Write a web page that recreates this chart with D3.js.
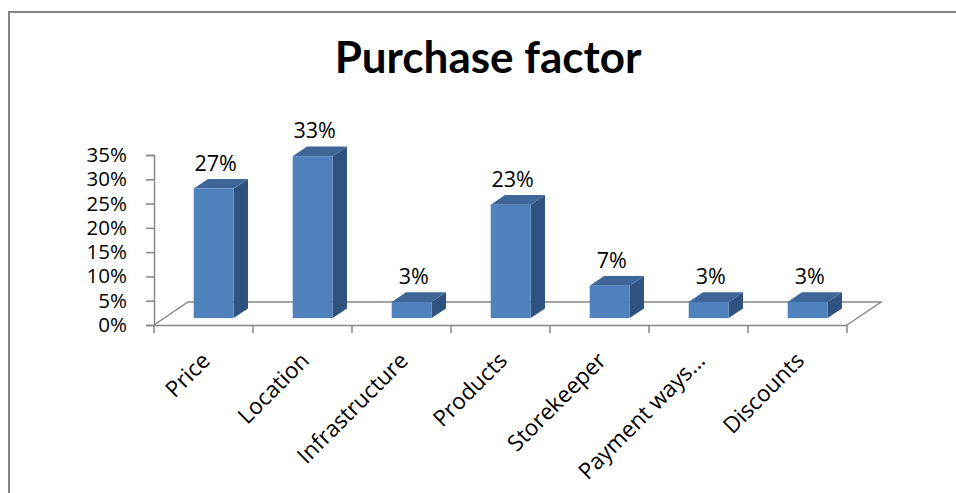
<!DOCTYPE html>
<html>
<head>
<meta charset="utf-8">
<script src="https://cdn.jsdelivr.net/npm/d3@7"></script>
<style>
  html, body { margin: 0; padding: 0; background: #fff; }
  svg { display: block; }
  text { font-family: "Open Sans", "Noto Sans", sans-serif; fill: #000; }
</style>
</head>
<body>
<svg id="chart" width="956" height="493"></svg>
<script>
// Purchase factor survey: share of respondents per factor (n/30)
const categories = ["Price", "Location", "Infrastructure", "Products", "Storekeeper", "Payment ways...", "Discounts"];
const values = [8 / 30, 10 / 30, 1 / 30, 7 / 30, 2 / 30, 1 / 30, 1 / 30];
const dataLabels = ["27%", "33%", "3%", "23%", "7%", "3%", "3%"];
const tickValues = [0, 0.05, 0.10, 0.15, 0.20, 0.25, 0.30, 0.35];

const svg = d3.select("#chart");
const W = 956, H = 493;

// Chart area border
svg.append("rect")
  .attr("x", 9).attr("y", 12)
  .attr("width", W + 10).attr("height", H + 10)
  .attr("fill", "#fff").attr("stroke", "#868686").attr("stroke-width", 2);

// Title
svg.append("text")
  .attr("x", 488).attr("y", 73)
  .attr("text-anchor", "middle")
  .style("font-family", "Lato, 'Open Sans', sans-serif")
  .style("font-weight", 700)
  .style("font-size", "44px")
  .text("Purchase factor");

// 3D projection: front plane + depth vector
const depth = { dx: 34, dy: -23 };
const x0 = 154, x1 = 847;
const x = d3.scaleBand().domain(categories).range([x0, x1]);
const y = d3.scaleLinear().domain([0, 0.35]).range([325, 155]);
const barW = 40;
const fFront = 0.30, fBack = 0.72;

const axisColor = "#868686";

// Floor outline
const g = svg.append("g");
const floorPts = [
  [x0, y(0)],
  [x0 + depth.dx, y(0) + depth.dy],
  [x1 + depth.dx, y(0) + depth.dy],
  [x1, y(0)]
];
g.append("path")
  .attr("d", d3.line()(floorPts))
  .attr("fill", "none")
  .attr("stroke", axisColor)
  .attr("stroke-width", 1.5);

// Category axis (front edge of floor) with tick marks between categories
const xAxis = d3.axisBottom(x).tickSize(0).tickFormat("");
g.append("g").attr("transform", `translate(0,${y(0)})`).call(xAxis)
  .call(s => s.select(".domain").attr("stroke", axisColor).attr("stroke-width", 1.5));
const boundaries = categories.map(c => x(c)).concat([x1]);
g.selectAll(".ctick").data(boundaries).join("line")
  .attr("x1", d => d).attr("x2", d => d)
  .attr("y1", y(0)).attr("y2", y(0) + 8)
  .attr("stroke", axisColor).attr("stroke-width", 1.5);

// Value axis
const yAxis = d3.axisLeft(y).tickValues(tickValues)
  .tickFormat(d3.format(".0%")).tickSize(8).tickPadding(19);
const ya = g.append("g").attr("transform", `translate(${x0},0)`).call(yAxis);
ya.select(".domain").attr("stroke", axisColor).attr("stroke-width", 1.5);
ya.selectAll(".tick line").attr("stroke", axisColor).attr("stroke-width", 1.5);
ya.selectAll(".tick text")
  .style("font-family", "'Open Sans', sans-serif")
  .style("font-size", "20.5px").attr("fill", "#000");

// Bars as 3D boxes
const frontFill = "#4f81bd", topFill = "#3e6699", sideFill = "#30527f";
const bars = g.selectAll(".bar").data(categories.map((c, i) => ({ c, v: values[i], lab: dataLabels[i] })))
  .join("g").attr("class", "bar");

function pt(xx, yy, f) { return [xx + f * depth.dx, yy + f * depth.dy]; }

bars.each(function (d) {
  const cx = x(d.c) + x.bandwidth() / 2;
  const l = cx - barW / 2, r = cx + barW / 2;
  const yt = y(d.v), yb = y(0);
  const sel = d3.select(this);
  const poly = pts => "M" + pts.map(p => p.join(",")).join("L") + "Z";
  // right side
  sel.append("path").attr("d", poly([pt(r, yb, fFront), pt(r, yb, fBack), pt(r, yt, fBack), pt(r, yt, fFront)]))
    .attr("fill", sideFill);
  // top
  sel.append("path").attr("d", poly([pt(l, yt, fFront), pt(r, yt, fFront), pt(r, yt, fBack), pt(l, yt, fBack)]))
    .attr("fill", topFill);
  // front face
  const fp = pt(l, yt, fFront);
  sel.append("rect")
    .attr("x", fp[0]).attr("y", fp[1])
    .attr("width", barW).attr("height", yb - yt)
    .attr("fill", frontFill);
  // value label
  sel.append("text")
    .attr("x", fp[0] + barW / 2 + 2)
    .attr("y", fp[1] - 18)
    .attr("text-anchor", "middle")
    .style("font-size", "21.5px")
    .text(d.lab);
});

// Rotated category labels
g.selectAll(".clab").data(categories).join("text")
  .attr("class", "clab")
  .attr("transform", d => `translate(${x(d) + x.bandwidth() / 2 + 8},${y(0) + 37}) rotate(-45)`)
  .attr("text-anchor", "end")
  .style("font-size", "22.5px")
  .text(d => d);
</script>
</body>
</html>
